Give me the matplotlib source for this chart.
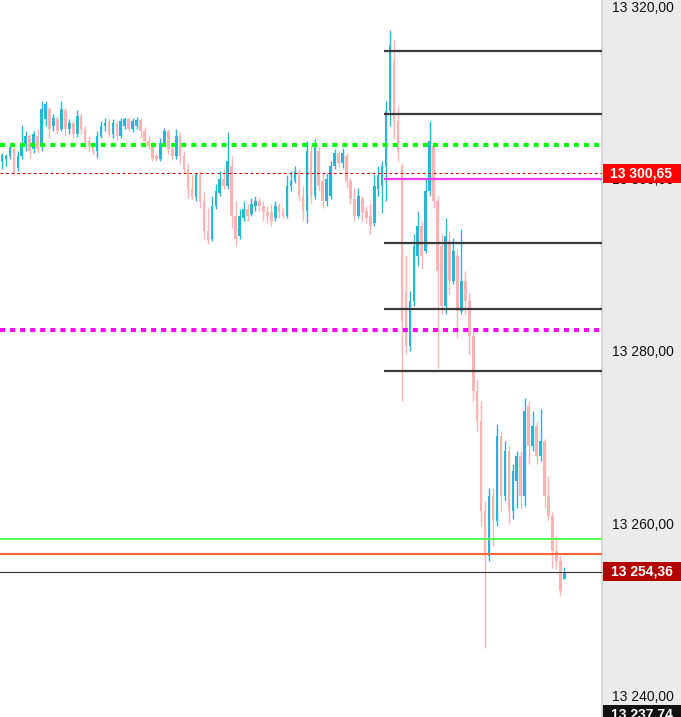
import matplotlib
matplotlib.use("Agg")
import matplotlib.pyplot as plt
import matplotlib.transforms as mtransforms
from matplotlib.patches import Rectangle
from matplotlib.ticker import FuncFormatter

plt.rcParams['font.family'] = ['Liberation Sans', 'DejaVu Sans']

# candles, left to right
opens = [
    13302.1, 13302.3, 13302.7, 13303.5, 13301.3, 13302.7, 13304.1, 13305.0, 13303.5, 13305.0,
    13303.8, 13307.0, 13308.1, 13306.2, 13307.0, 13305.8, 13307.9, 13305.8, 13306.5, 13305.2,
    13307.3, 13305.8, 13304.4, 13303.8, 13303.3, 13305.0, 13306.2, 13306.7, 13305.2, 13306.5,
    13305.0, 13306.2, 13307.0, 13305.8, 13306.2, 13306.9, 13305.6, 13304.4, 13303.8, 13302.7,
    13302.3, 13304.2, 13305.6, 13303.5, 13302.7, 13305.0, 13302.7, 13301.2, 13298.8, 13297.9,
    13300.4, 13297.4, 13294.0, 13293.0, 13296.9, 13298.4, 13300.0, 13299.2, 13301.5, 13295.7,
    13293.4, 13295.4, 13296.5, 13295.9, 13296.9, 13297.4, 13296.9, 13296.1, 13296.1, 13295.4,
    13296.9, 13296.1, 13295.7, 13299.2, 13299.8, 13300.7, 13298.0, 13296.3, 13303.3, 13298.0,
    13303.3, 13299.8, 13297.4, 13298.0, 13301.5, 13303.0, 13301.9, 13302.7, 13299.8, 13297.7,
    13295.7, 13297.7, 13296.3, 13295.7, 13294.9, 13298.8, 13299.2, 13301.5, 13307.9, 13313.7,
    13306.7, 13301.5, 13287.0, 13280.6, 13285.8, 13291.0, 13294.5, 13291.6, 13298.6, 13303.8,
    13297.4, 13292.2, 13285.2, 13292.8, 13288.1, 13291.0, 13284.7, 13288.1, 13285.8, 13281.7,
    13275.3, 13271.9, 13261.4, 13256.2, 13263.1, 13260.2, 13270.1, 13263.1, 13268.4, 13261.4,
    13264.9, 13267.8, 13263.1, 13273.6, 13269.0, 13271.3, 13267.8, 13269.5, 13263.1, 13260.8,
    13256.7, 13255.6, 13253.5,
]
closes = [
    13302.8, 13302.7, 13303.7, 13300.7, 13302.7, 13304.1, 13305.0, 13303.3, 13305.2, 13303.5,
    13308.1, 13308.7, 13305.8, 13307.1, 13305.6, 13308.1, 13305.8, 13306.5, 13305.2, 13307.3,
    13305.8, 13304.4, 13303.8, 13303.3, 13305.0, 13306.2, 13306.5, 13305.2, 13306.5, 13305.0,
    13306.7, 13307.0, 13305.8, 13306.7, 13306.9, 13305.6, 13304.4, 13303.8, 13302.4, 13302.3,
    13304.2, 13305.6, 13303.5, 13302.7, 13305.0, 13302.7, 13301.2, 13298.8, 13297.9, 13300.4,
    13297.4, 13294.0, 13292.8, 13296.9, 13298.6, 13300.0, 13299.2, 13302.1, 13295.7, 13293.0,
    13295.7, 13296.5, 13295.7, 13297.1, 13297.4, 13296.9, 13296.1, 13295.7, 13295.1, 13296.9,
    13296.1, 13295.7, 13299.2, 13299.8, 13300.9, 13298.0, 13296.3, 13303.3, 13298.0, 13303.8,
    13299.2, 13297.4, 13300.0, 13301.5, 13303.0, 13301.9, 13303.0, 13299.8, 13297.7, 13295.7,
    13298.0, 13296.1, 13295.4, 13294.5, 13299.2, 13300.4, 13301.5, 13307.9, 13315.5, 13306.7,
    13303.3, 13283.5, 13280.6, 13285.8, 13292.2, 13294.5, 13291.0, 13298.6, 13304.4, 13297.4,
    13289.3, 13285.2, 13293.4, 13288.1, 13291.6, 13284.7, 13288.1, 13285.8, 13281.7, 13275.3,
    13271.9, 13261.4, 13256.2, 13263.1, 13260.2, 13270.1, 13263.1, 13268.4, 13261.4, 13266.0,
    13267.8, 13263.1, 13273.0, 13269.0, 13271.3, 13267.8, 13269.5, 13263.1, 13260.8, 13256.7,
    13255.6, 13252.1, 13254.3,
]
highs = [
    13303.0, 13302.9, 13304.1, 13303.7, 13303.3, 13306.3, 13305.6, 13305.2, 13305.6, 13305.8,
    13309.1, 13309.1, 13308.4, 13307.6, 13307.3, 13309.1, 13308.3, 13307.0, 13306.7, 13308.0,
    13307.7, 13306.2, 13305.0, 13304.4, 13305.6, 13306.7, 13307.1, 13307.0, 13307.0, 13306.7,
    13307.1, 13307.2, 13307.2, 13307.1, 13307.2, 13307.1, 13306.0, 13305.0, 13304.2, 13303.0,
    13304.8, 13305.9, 13305.8, 13303.8, 13305.8, 13305.4, 13303.3, 13301.9, 13300.4, 13300.7,
    13300.9, 13298.6, 13296.6, 13298.0, 13299.4, 13300.9, 13301.3, 13305.4, 13302.7, 13297.4,
    13296.5, 13297.4, 13297.1, 13297.8, 13298.0, 13297.9, 13297.4, 13296.9, 13297.1, 13297.4,
    13297.2, 13296.6, 13300.4, 13300.9, 13301.5, 13301.2, 13299.2, 13304.4, 13303.8, 13304.6,
    13303.8, 13300.7, 13300.7, 13302.1, 13303.5, 13303.3, 13303.6, 13303.0, 13300.1, 13299.0,
    13299.0, 13298.0, 13296.9, 13297.2, 13300.6, 13301.5, 13302.1, 13309.1, 13317.3, 13316.1,
    13308.5, 13301.9, 13291.1, 13287.0, 13293.6, 13296.3, 13295.1, 13300.1, 13306.7, 13304.4,
    13298.0, 13293.6, 13295.5, 13294.0, 13293.1, 13291.9, 13294.2, 13289.3, 13286.7, 13282.3,
    13276.7, 13274.2, 13262.6, 13264.1, 13264.1, 13271.5, 13270.7, 13269.5, 13269.0, 13266.9,
    13268.4, 13268.4, 13274.5, 13274.2, 13273.0, 13271.9, 13273.3, 13269.8, 13265.5, 13261.4,
    13258.5, 13256.2, 13254.9,
]
lows = [
    13301.2, 13301.5, 13302.3, 13300.5, 13300.9, 13302.3, 13303.3, 13302.4, 13303.0, 13303.0,
    13303.3, 13306.2, 13304.7, 13305.6, 13305.2, 13305.6, 13305.0, 13305.2, 13304.8, 13304.9,
    13305.2, 13303.5, 13303.3, 13302.9, 13302.4, 13304.7, 13305.6, 13304.9, 13304.8, 13304.5,
    13304.7, 13305.8, 13305.6, 13305.5, 13305.8, 13304.7, 13303.7, 13303.5, 13302.1, 13302.1,
    13302.1, 13303.8, 13302.9, 13302.3, 13302.3, 13301.9, 13300.7, 13297.8, 13297.7, 13297.4,
    13296.6, 13293.0, 13292.4, 13292.8, 13296.5, 13298.0, 13298.8, 13298.8, 13294.3, 13292.2,
    13293.0, 13295.1, 13295.1, 13295.7, 13296.3, 13296.3, 13295.1, 13294.9, 13294.5, 13295.1,
    13295.5, 13295.4, 13295.4, 13298.6, 13299.5, 13297.4, 13295.1, 13294.9, 13297.2, 13297.7,
    13298.6, 13296.6, 13296.9, 13297.7, 13301.2, 13301.4, 13301.3, 13299.0, 13297.1, 13295.1,
    13295.4, 13295.1, 13294.9, 13293.6, 13294.5, 13298.0, 13296.0, 13297.4, 13306.2, 13304.6,
    13302.1, 13274.2, 13279.7, 13280.0, 13285.2, 13289.9, 13289.5, 13291.4, 13298.0, 13296.6,
    13278.0, 13284.3, 13284.3, 13286.6, 13287.8, 13281.5, 13284.3, 13284.3, 13279.7, 13274.2,
    13270.7, 13259.7, 13245.5, 13255.6, 13257.3, 13259.7, 13261.4, 13262.6, 13259.9, 13260.5,
    13261.7, 13261.7, 13262.0, 13266.9, 13268.4, 13266.9, 13267.2, 13261.7, 13260.2, 13254.8,
    13254.7, 13251.5, 13253.5,
]

# horizontal levels
pivot_levels = [13314.9, 13307.6, 13292.6, 13284.9, 13277.7]
green_dotted = 13303.9
magenta_dotted = 13282.4
magenta_level = 13300.0
bid_level = 13300.65
green_level = 13258.1
orange_level = 13256.4
last_price = 13254.36
low_price = 13237.74
tick_prices = [13320, 13300, 13280, 13260, 13240]

UP = '#29b6d6'
DOWN = '#ffb3b3'

W, H = 681, 717
plot_w = 602
step_px = 3.96  # pixels per candle

fig = plt.figure(figsize=(W / 100, H / 100), dpi=100, facecolor='#ebebeb')
ax = fig.add_axes([0, 0, plot_w / W, 1])
ax.set_facecolor('white')

xs = list(range(len(closes)))
colors = [UP if c >= o else DOWN for o, c in zip(opens, closes)]
ax.vlines(xs, lows, highs, colors=colors, linewidth=1.0, zorder=2)
ax.bar(xs, [abs(c - o) for o, c in zip(opens, closes)],
       bottom=[min(o, c) for o, c in zip(opens, closes)],
       width=0.65, color=colors, linewidth=0, zorder=2)

x_end = -0.5 + plot_w / step_px
ax.set_xlim(-0.5, x_end)
ax.set_ylim(13237.45, 13320.8)

x_start = 96.5

ax.hlines(pivot_levels, x_start, x_end, color='#3a3a3a', linewidth=1.6, zorder=3)
ax.hlines(magenta_level, x_start, x_end, color='#f23cf2', linewidth=1.6, zorder=3)
ax.axhline(green_dotted, color='#00ff00', linewidth=2.9, dashes=(1.25, 1.25), zorder=4)
ax.axhline(magenta_dotted, color='#ff00ff', linewidth=2.9, dashes=(1.25, 1.25), zorder=4)
ax.axhline(bid_level, color='#dd0000', linewidth=0.8, dashes=(2.5, 2.5), zorder=4)
ax.axhline(green_level, color='#44ff44', linewidth=1.3, zorder=3)
ax.axhline(orange_level, color='#ff6633', linewidth=1.5, zorder=3)
ax.axhline(last_price, color='#333333', linewidth=0.8, zorder=3)

for side in ['top', 'left', 'bottom']:
    ax.spines[side].set_visible(False)
ax.spines['right'].set_color('#d8d8d8')
ax.spines['right'].set_linewidth(1.5)
ax.set_xticks([])

fmt = lambda v, pos: f"{v:,.2f}".replace(',', ' ').replace('.', ',')
ax.yaxis.tick_right()
ax.set_yticks(tick_prices)
ax.yaxis.set_major_formatter(FuncFormatter(fmt))
ax.tick_params(axis='y', length=0, pad=7.2, labelsize=10, labelcolor='#111111')
for lab in ax.get_yticklabels():
    lab.set_horizontalalignment('left')

# price tags on the right scale
blend = mtransforms.blended_transform_factory(ax.transAxes, ax.transData)
tag_w = (W - plot_w) / plot_w
tag_h = 19 / 8.6
for price, face in [(bid_level, '#ff0000'), (last_price, '#b30000'), (low_price, '#111111')]:
    ax.add_patch(Rectangle((1.0015, price - tag_h / 2), tag_w, tag_h, transform=blend,
                           facecolor=face, edgecolor='none', clip_on=False, zorder=6))
    ax.text(1.0 + tag_w / 2, price, fmt(price, None), transform=blend, ha='center', va='center',
            color='white', fontsize=10, fontweight='bold', clip_on=False, zorder=7)

fig.savefig('out.png', dpi=100, facecolor=fig.get_facecolor())
